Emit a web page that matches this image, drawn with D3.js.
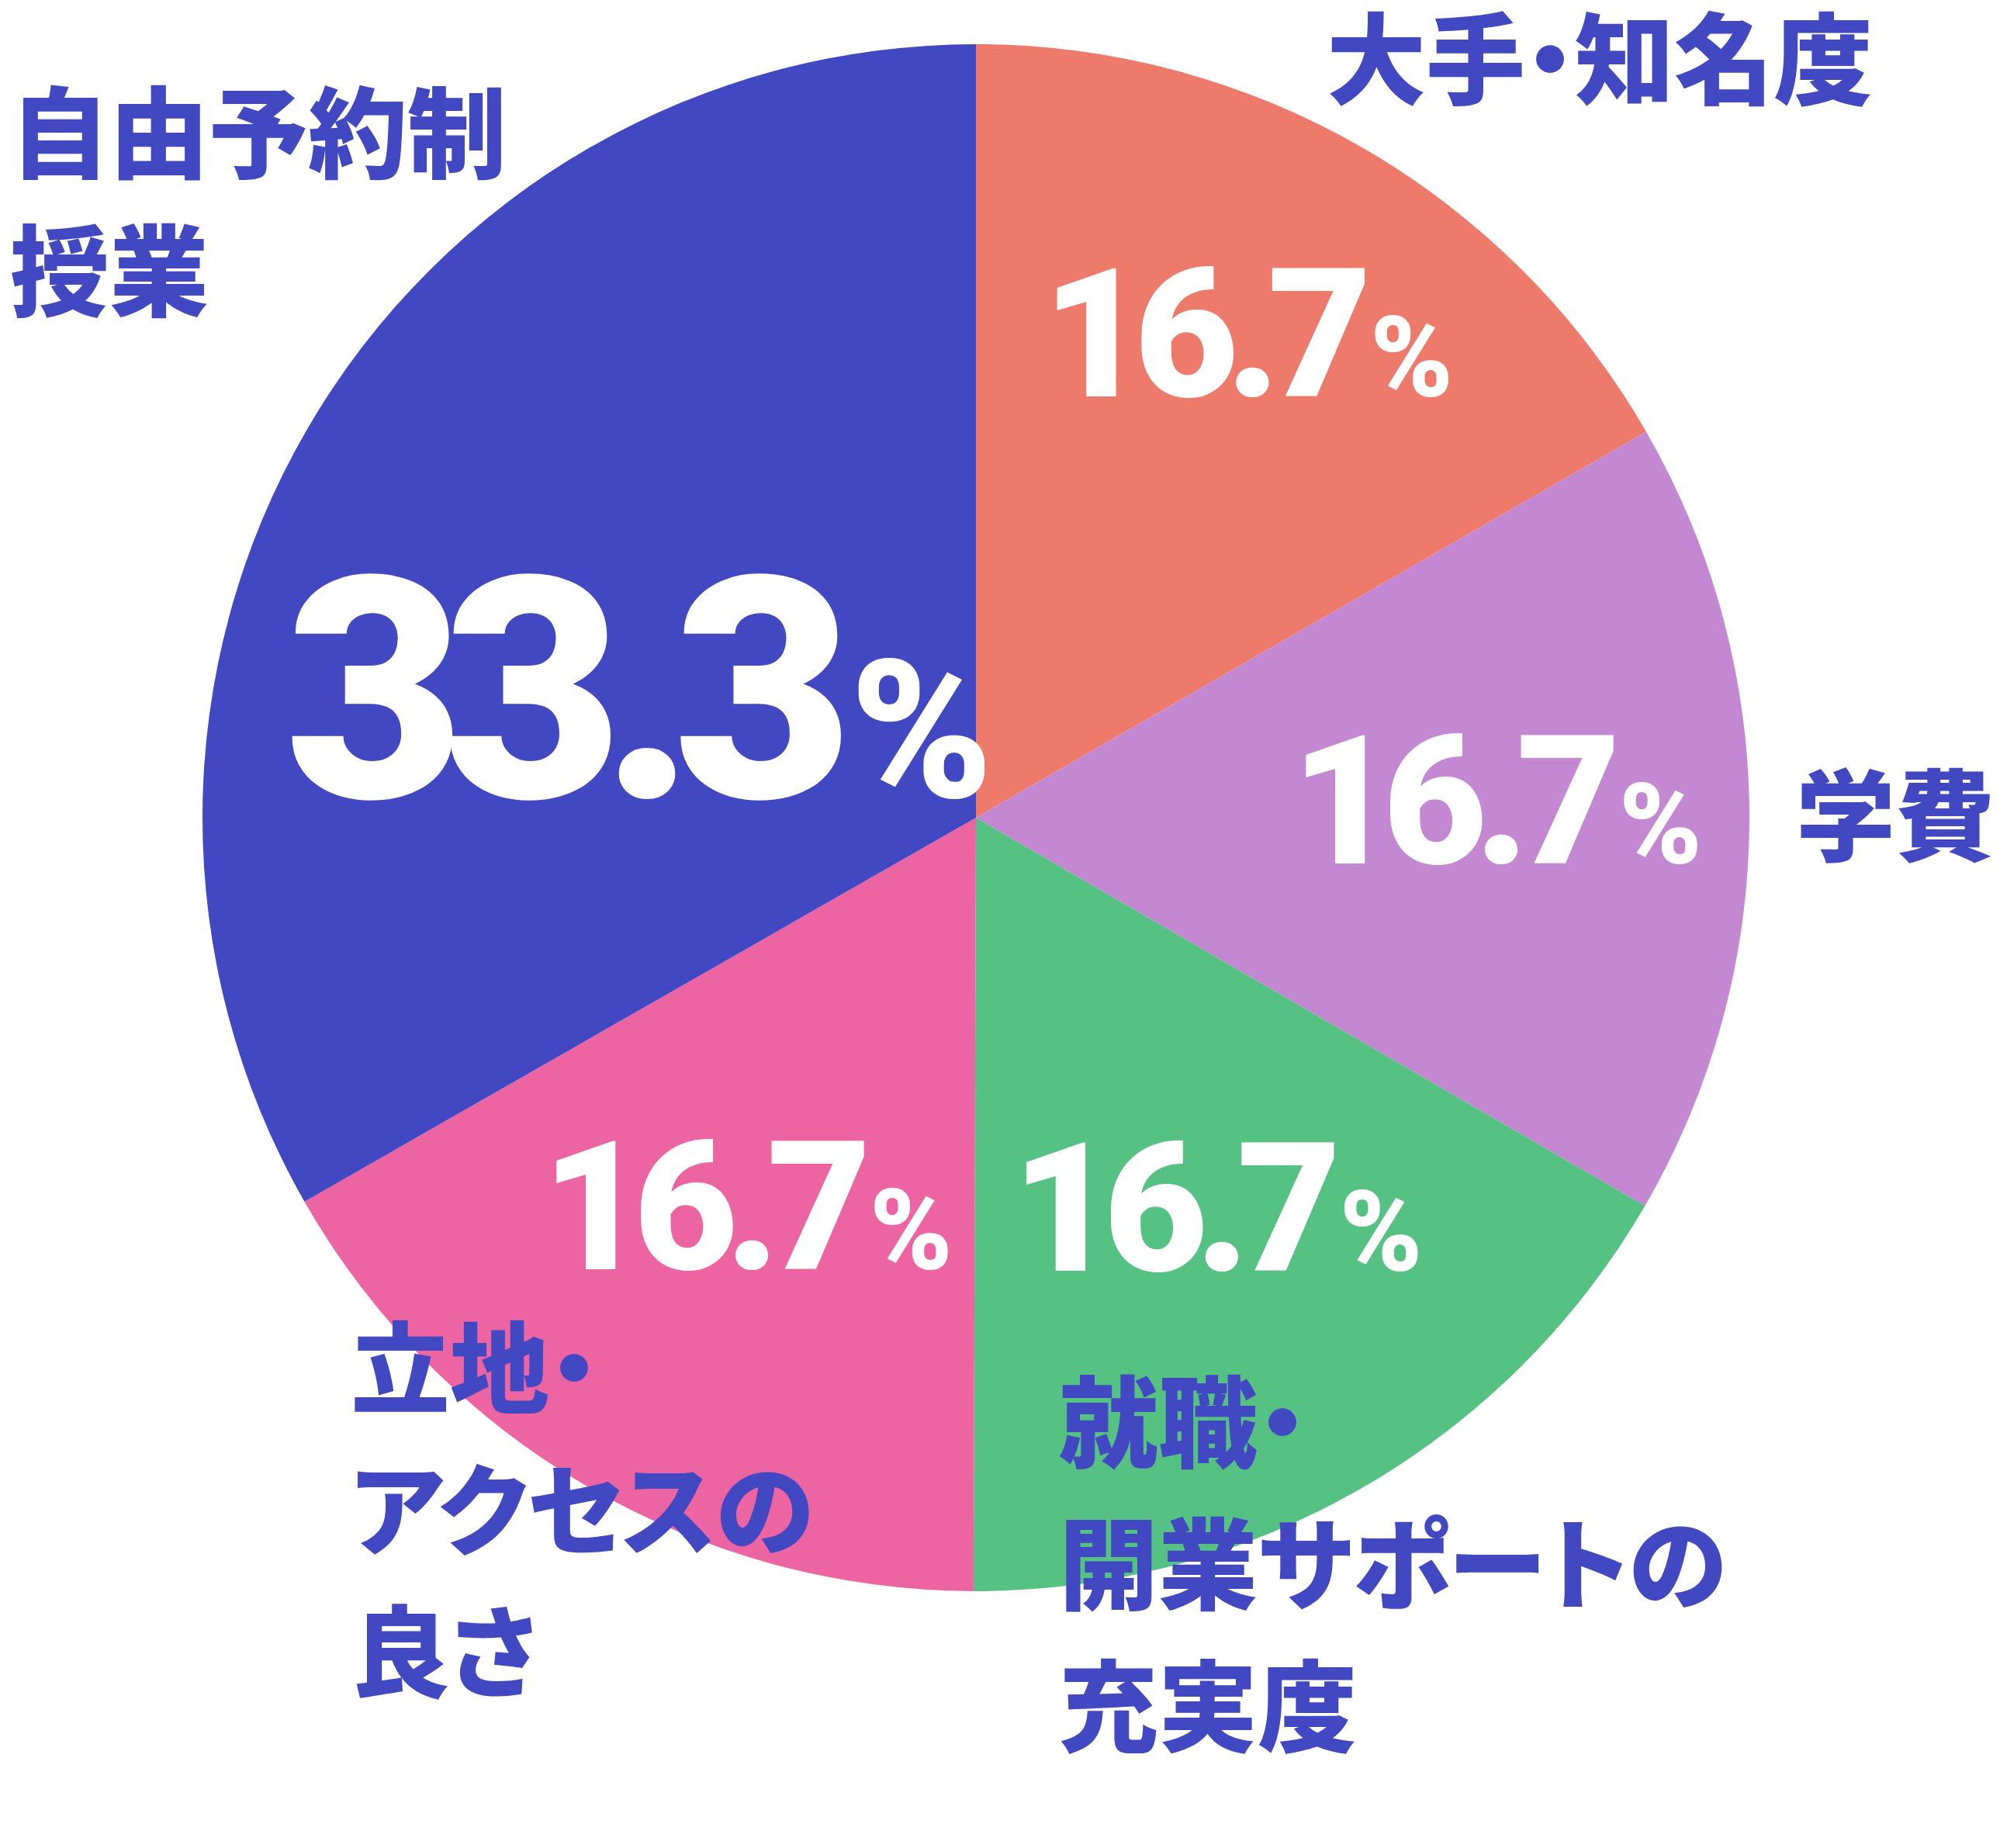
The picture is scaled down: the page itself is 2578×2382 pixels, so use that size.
<!DOCTYPE html>
<html><head><meta charset="utf-8">
<script src="https://cdn.jsdelivr.net/npm/d3@7"></script>
<style>body{margin:0;background:#fff}</style>
</head><body>
<svg id="chart" width="2578" height="2382"></svg>
<script>
const categories = ["大手・知名度", "学費", "就職・開業サポートの充実度", "立地・アクセスの良さ", "自由予約制授業"];
const values = [16.7, 16.7, 16.7, 16.7, 33.3];
const colors = ["#ED7A6A", "#C488D2", "#55C182", "#EC64A1", "#4248C1"];
const labelLines = [["大手・知名度"], ["学費"], ["就職・", "開業サポートの", "充実度"], ["立地・", "アクセスの", "良さ"], ["自由予約制", "授業"]];

const width = 2578, cx = 1258, cy = 1054, r = 997;
const svg = d3.select("#chart");
const g = svg.append("g").attr("transform", `translate(${cx},${cy})`);

const pie = d3.pie().sort(null).value(d => d)(values);
const arc = d3.arc().innerRadius(0).outerRadius(r);

g.selectAll("path").data(pie).enter().append("path")
    .attr("d", arc).attr("fill", (d, i) => colors[i]);

// percentage labels: radius factor + offsets per slice
const pctLayout = [
    {k: 0.71, dx: -12, dy: -14, size: 232},
    {k: 0.67, dx: -5, dy: -26, size: 232},
    {k: 0.60, dx: 5, dy: -18, size: 232},
    {k: 0.60, dx: -2, dy: -18, size: 232},
    {k: 0.52, dx: 0, dy: 90, size: 400}
];
pie.forEach((d, i) => {
    const L = pctLayout[i];
    const a = (d.startAngle + d.endAngle) / 2;
    const x = Math.sin(a) * r * L.k + L.dx, y = -Math.cos(a) * r * L.k + L.dy;
    const t = g.append("text")
        .attr("x", x).attr("y", y + L.size * 0.36)
        .attr("text-anchor", "middle")
        .attr("fill", "#fff")
        .style("font-family", "Roboto, sans-serif")
        .style("font-weight", 900)
        .style("letter-spacing", "-0.07em")
        .style("font-size", L.size + "px");
    t.append("tspan").text(values[i].toFixed(1));
    t.append("tspan").text("%").style("font-size", (L.size * 0.62) + "px").attr("dx", L.size * 0.06);
});

// category labels (absolute page positions of first baseline)
const catLayout = [
    {x: 1710, y: 125}, {x: 2315, y: 1100}, {x: 1365, y: 1882},
    {x: 452, y: 1812}, {x: 13, y: 220}
];
labelLines.forEach((lines, i) => {
    const t = svg.append("text")
        .attr("fill", "#4248C1")
        .style("font-family", "'Noto Sans CJK JP', sans-serif")
        .style("font-weight", 900)
        .style("font-feature-settings", "'palt'")
        .style("font-size", "128px");
    lines.forEach((s, j) => t.append("tspan")
        .attr("x", catLayout[i].x).attr("y", catLayout[i].y + j * (i === 4 ? 178 : 183)).text(s));
});
</script>
</body></html>
